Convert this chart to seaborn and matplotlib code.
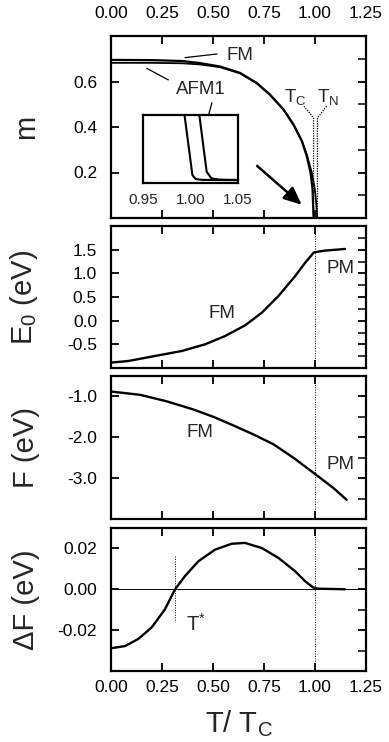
import matplotlib
matplotlib.use("Agg")
import matplotlib.pyplot as plt
import seaborn as sns
import numpy as np
import pandas as pd
from matplotlib.ticker import MultipleLocator

# ---------------- data ----------------
T_fm = [0.0, 0.2, 0.35, 0.436, 0.534, 0.632, 0.714, 0.779, 0.845, 0.894, 0.935, 0.959, 0.978, 0.988, 0.993]
m_fm = [0.695, 0.694, 0.690, 0.681, 0.666, 0.638, 0.594, 0.543, 0.478, 0.412, 0.339, 0.274, 0.2, 0.127, 0.0]
T_afm = [0.0, 0.2, 0.35, 0.436, 0.534, 0.632, 0.714, 0.779, 0.845, 0.894, 0.937, 0.962, 0.984, 0.999, 1.007, 1.011]
m_afm = [0.682, 0.682, 0.680, 0.675, 0.663, 0.636, 0.592, 0.541, 0.476, 0.410, 0.337, 0.272, 0.2, 0.127, 0.055, 0.0]

# inset (zoom near transition)
Ti_fm = [0.9937, 1.002, 1.0053, 1.012, 1.05]
mi_fm = [0.1, 0.0118, 0.0059, 0.0046, 0.0042]
Ti_afm = [1.0093, 1.017, 1.022, 1.03, 1.05]
mi_afm = [0.1, 0.0166, 0.0069, 0.0050, 0.0044]

T_E = [0.003, 0.085, 0.216, 0.347, 0.461, 0.559, 0.657, 0.739, 0.820, 0.902, 0.951, 0.995, 1.049, 1.147]
E0 = [-0.885, -0.852, -0.746, -0.641, -0.50, -0.325, -0.10, 0.167, 0.517, 0.938, 1.22, 1.444, 1.48, 1.515]

T_F = [0.0, 0.142, 0.273, 0.404, 0.502, 0.6, 0.698, 0.796, 0.894, 0.99, 1.09, 1.155]
F = [-0.88, -0.96, -1.12, -1.32, -1.50, -1.71, -1.93, -2.17, -2.50, -2.86, -3.24, -3.53]

T_dF = [0.003, 0.069, 0.134, 0.2, 0.265, 0.314, 0.363, 0.428, 0.51, 0.592, 0.657, 0.739, 0.82, 0.902, 0.951, 0.992, 1.016, 1.147]
dF = [-0.0288, -0.0278, -0.0243, -0.0186, -0.0097, 0.0, 0.0065, 0.0137, 0.0194, 0.0223, 0.0227, 0.0202, 0.0154, 0.0089, 0.0040, 0.0008, 0.0003, 0.0]

x_ticks = [0.0, 0.25, 0.5, 0.75, 1.0, 1.25]
x_ticklabels = ["0.00", "0.25", "0.50", "0.75", "1.00", "1.25"]
m_ticks = [0.2, 0.4, 0.6]
m_ticklabels = ["0.2", "0.4", "0.6"]
E_ticks = [-0.5, 0.0, 0.5, 1.0, 1.5]
E_ticklabels = ["-0.5", "0.0", "0.5", "1.0", "1.5"]
F_ticks = [-3.0, -2.0, -1.0]
F_ticklabels = ["-3.0", "-2.0", "-1.0"]
dF_ticks = [-0.02, 0.0, 0.02]
dF_ticklabels = ["-0.02", "0.00", "0.02"]
in_ticks = [0.95, 1.00, 1.05]
in_ticklabels = ["0.95", "1.00", "1.05"]

T_C = 0.993
T_N = 1.012
T_star = 0.314

# ---------------- style ----------------
sns.set_theme(style="ticks")
plt.rcParams["font.family"] = ["Liberation Sans", "DejaVu Sans"]
plt.rcParams["mathtext.fontset"] = "custom"
plt.rcParams["mathtext.rm"] = "Liberation Sans"
plt.rcParams["mathtext.it"] = "Liberation Sans"
plt.rcParams["axes.unicode_minus"] = False
plt.rcParams["axes.linewidth"] = 1.6

fig = plt.figure(figsize=(3.89, 7.42), dpi=100)
L, W = 111 / 389, 255 / 389
H = 742
def pos(top, bot):
    return [L, (H - bot) / H, W, (bot - top) / H]

ax1 = fig.add_axes(pos(36, 218))
ax2 = fig.add_axes(pos(226, 368))
ax3 = fig.add_axes(pos(376, 519))
ax4 = fig.add_axes(pos(528, 671))

lc = "black"
lw = 1.7
TICK_FS = 12.5
TXT_FS = 13.5
LAB_FS = 21

def style(ax, yt, ytl, ylim, minor, ylabel):
    ax.set_xlim(0, 1.25)
    ax.set_ylim(*ylim)
    ax.set_xticks(x_ticks)
    ax.set_yticks(yt)
    ax.set_yticklabels(ytl)
    ax.yaxis.set_minor_locator(MultipleLocator(minor))
    ax.tick_params(which="major", direction="in", top=True, right=True, length=6, width=1.3,
                   labelsize=TICK_FS, colors="black")
    ax.tick_params(axis="y", which="major", pad=10)
    ax.tick_params(axis="x", which="major", pad=6.5)
    ax.tick_params(which="minor", direction="in", left=False, right=True, length=6, width=1.3)
    ax.set_ylabel(ylabel, fontsize=LAB_FS)
    ax.yaxis.set_label_coords(-0.28, 0.5)
    for s in ax.spines.values():
        s.set_color("black")
        s.set_linewidth(1.6)

# ---- panel 1: m ----
style(ax1, m_ticks, m_ticklabels, (0, 0.8), 0.1, "m")
ax1.tick_params(labeltop=True, labelbottom=False)
ax1.set_xticklabels(x_ticklabels)
ax1.tick_params(axis="x", pad=11)
sns.lineplot(x=T_afm, y=m_afm, ax=ax1, color=lc, lw=1.3, sort=False)
sns.lineplot(x=T_fm, y=m_fm, ax=ax1, color=lc, lw=1.6, sort=False)
ax1.plot([0.946, T_C, T_C], [0.491, 0.44, 0.0], ls=(0, (1, 1)), color=lc, lw=0.9)
ax1.plot([1.057, T_N, T_N], [0.491, 0.44, 0.0], ls=(0, (1, 1)), color=lc, lw=0.9)
ax1.text(0.902, 0.533, "T$_{\\mathregular{C}}$", fontsize=TXT_FS, ha="center", va="center")
ax1.text(1.066, 0.533, "T$_{\\mathregular{N}}$", fontsize=TXT_FS, ha="center", va="center")
ax1.text(0.632, 0.716, "FM", fontsize=TXT_FS, ha="center", va="center")
ax1.plot([0.363, 0.52], [0.705, 0.721], color=lc, lw=0.9)
ax1.text(0.441, 0.564, "AFM1", fontsize=TXT_FS, ha="center", va="center")
ax1.plot([0.175, 0.281], [0.658, 0.607], color=lc, lw=0.9)
ax1.plot([0.495, 0.461], [0.507, 0.398], color=lc, lw=0.9)
ax1.annotate("", xy=(0.945, 0.05), xytext=(0.706, 0.237),
             arrowprops=dict(arrowstyle="-|>,head_length=0.9,head_width=0.4", color=lc, lw=1.8))

# inset
axi = fig.add_axes([143 / 389, (H - 183) / H, 95 / 389, 68 / H])
sns.lineplot(x=Ti_fm, y=mi_fm, ax=axi, color=lc, lw=1.5, sort=False)
sns.lineplot(x=Ti_afm, y=mi_afm, ax=axi, color=lc, lw=1.5, sort=False)
axi.set_xlim(0.955, 1.05)
axi.set_ylim(0, 0.1)
axi.set_xticks(in_ticks)
axi.set_xticklabels(in_ticklabels)
axi.set_yticks([])
axi.tick_params(axis="x", length=0, labelsize=11, pad=7)
for s in axi.spines.values():
    s.set_color("black")
    s.set_linewidth(1.6)

# ---- panel 2: E0 ----
style(ax2, E_ticks, E_ticklabels, (-1.0, 2.0), 0.25, "E$_{\\mathregular{0}}$ (eV)")
ax2.tick_params(labelbottom=False)
sns.lineplot(x=T_E, y=E0, ax=ax2, color=lc, lw=lw, sort=False)
ax2.axvline(1.0, ls=(0, (1, 1.5)), color=lc, lw=0.7)
ax2.text(0.544, 0.15, "FM", fontsize=TXT_FS, ha="center", va="center")
ax2.text(1.123, 1.1, "PM", fontsize=TXT_FS, ha="center", va="center")

# ---- panel 3: F ----
style(ax3, F_ticks, F_ticklabels, (-4.0, -0.5), 0.5, "F (eV)")
ax3.tick_params(labelbottom=False)
sns.lineplot(x=T_F, y=F, ax=ax3, color=lc, lw=lw, sort=False)
ax3.axvline(1.0, ls=(0, (1, 1.5)), color=lc, lw=0.7)
ax3.text(0.436, -1.88, "FM", fontsize=TXT_FS, ha="center", va="center")
ax3.text(1.123, -2.66, "PM", fontsize=TXT_FS, ha="center", va="center")

# ---- panel 4: dF ----
style(ax4, dF_ticks, dF_ticklabels, (-0.04, 0.03), 0.01, "ΔF (eV)")
ax4.set_xticklabels(x_ticklabels)
sns.lineplot(x=T_dF, y=dF, ax=ax4, color=lc, lw=lw, sort=False)
ax4.axhline(0.0, color=lc, lw=0.7)
ax4.axvline(1.0, ls=(0, (1, 1.5)), color=lc, lw=0.7)
ax4.plot([T_star, T_star], [0.0162, -0.0159], ls=(0, (1, 1.5)), color=lc, lw=0.7)
ax4.text(0.417, -0.017, "T$^{\\mathregular{*}}$", fontsize=TXT_FS + 1, ha="center", va="center")
ax4.set_xlabel("T/ T$_{\\mathregular{C}}$", fontsize=LAB_FS)
ax4.xaxis.set_label_coords(0.5, -0.26)

fig.savefig("out.png", dpi=100)
